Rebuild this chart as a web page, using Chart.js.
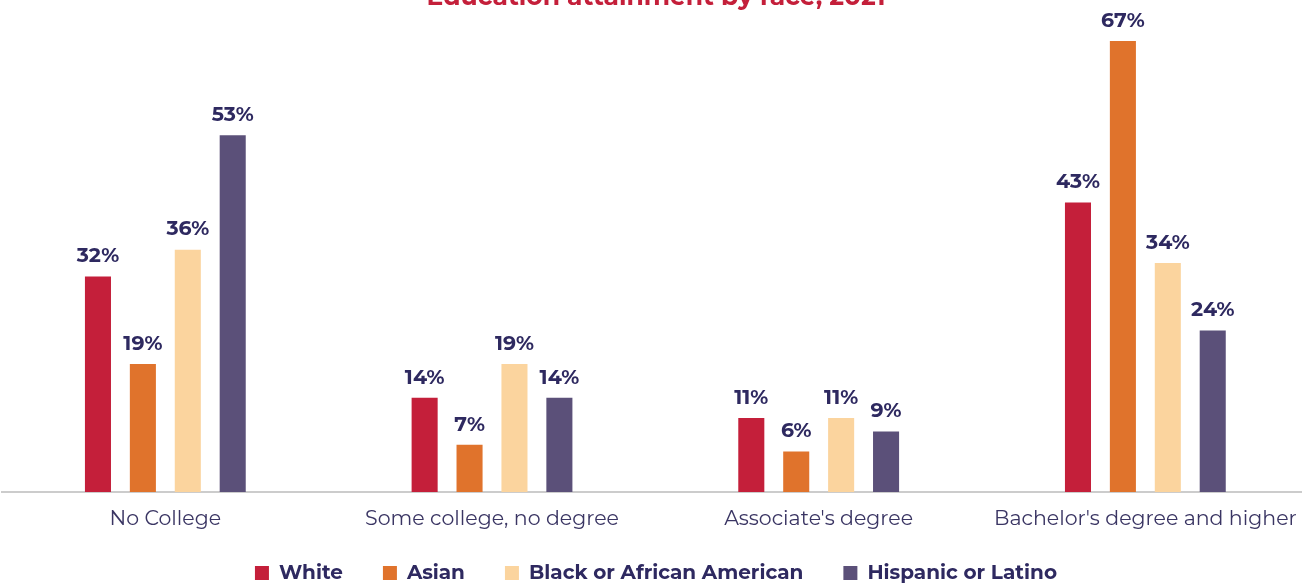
<!DOCTYPE html>
<html>
<head>
<meta charset="utf-8">
<script src="https://cdn.jsdelivr.net/npm/chart.js@4.4.1/dist/chart.umd.min.js"></script>
<style>
  html, body { margin: 0; padding: 0; background: #fff; overflow: hidden; }
  #wrap { position: relative; width: 1302px; height: 586px; overflow: hidden; }
  #eduChart { position: absolute; left: 0; top: -22px; }
</style>
</head>
<body>
<div id="wrap"><canvas id="eduChart" width="1312" height="615"></canvas></div>
<script>
const categories = ['No College', 'Some college, no degree', "Associate's degree", "Bachelor's degree and higher"];
const whiteVals = [32, 14, 11, 43];
const asianVals = [19, 7, 6, 67];
const blackVals = [36, 19, 11, 34];
const hispanicVals = [53, 14, 9, 24];

const navy = '#2E2960';
const fontFam = 'Montserrat, "Open Sans", sans-serif';

// draws the % label above each bar
const valueLabels = {
  id: 'valueLabels',
  afterDatasetsDraw(chart) {
    const ctx = chart.ctx;
    ctx.save();
    ctx.font = 'bold 20.5px ' + fontFam;
    ctx.fillStyle = navy;
    ctx.textAlign = 'center';
    ctx.textBaseline = 'bottom';
    chart.data.datasets.forEach((ds, i) => {
      chart.getDatasetMeta(i).data.forEach((bar, j) => {
        ctx.fillText(ds.data[j] + '%', bar.x, bar.y - 10);
      });
    });
    ctx.restore();
  }
};

new Chart(document.getElementById('eduChart').getContext('2d'), {
  type: 'bar',
  data: {
    labels: categories,
    datasets: [
      { label: 'White', data: whiteVals, backgroundColor: '#C41F3A' },
      { label: 'Asian', data: asianVals, backgroundColor: '#E0732C' },
      { label: 'Black or African American', data: blackVals, backgroundColor: '#FBD49E' },
      { label: 'Hispanic or Latino', data: hispanicVals, backgroundColor: '#5B5079' }
    ]
  },
  options: {
    responsive: false,
    animation: false,
    layout: { padding: { left: 2, right: 2, top: 0, bottom: 0 } },
    datasets: { bar: { barPercentage: 0.58, categoryPercentage: 0.55 } },
    plugins: {
      title: {
        display: true,
        text: 'Education attainment by race, 2021',
        color: '#C41F3A',
        font: { family: fontFam, size: 25, weight: 'bold' },
        padding: { top: 5, bottom: 0 }
      },
      legend: {
        position: 'bottom',
        labels: {
          color: navy,
          boxWidth: 14,
          boxHeight: 14,
          padding: 40,
          font: { family: fontFam, size: 20, weight: 'bold' }
        }
      },
      tooltip: { enabled: false }
    },
    scales: {
      y: { display: false, min: 0, max: 71.15 },
      x: {
        grid: { display: false, drawTicks: false },
        border: { color: '#CCCCCC', width: 2 },
        ticks: {
          color: '#3A3563',
          padding: 15,
          font: { family: fontFam, size: 20.5 }
        },
        // pull the legend up closer to the axis, and don't clip the labels
        afterFit(scale) {
          scale.height = 31;
          scale._computeLabelArea = () => undefined;
        }
      }
    }
  },
  plugins: [valueLabels]
});
</script>
</body>
</html>
